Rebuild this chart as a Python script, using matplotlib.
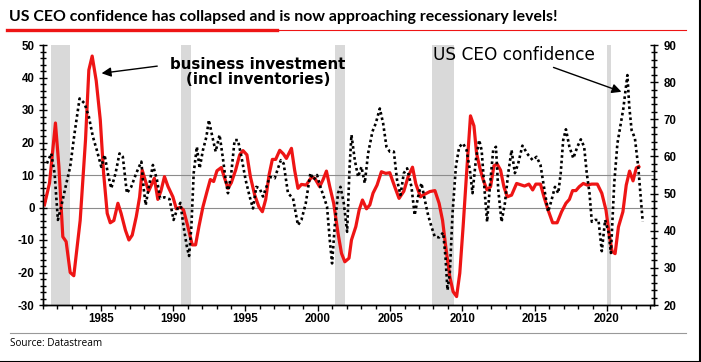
import matplotlib
matplotlib.use("Agg")
import matplotlib.pyplot as plt
from matplotlib.lines import Line2D
from matplotlib.ticker import MultipleLocator

plt.rcParams['axes.unicode_minus'] = False

# ---------------------------------------------------------------------------
# Data
# ---------------------------------------------------------------------------

# business investment incl. inventories, % y/y (left axis)
inv_years = [1981.10, 1981.45, 1981.86, 1982.10, 1982.37, 1982.60, 1982.88, 1983.13,
             1983.57, 1983.94, 1984.17, 1984.40, 1984.68, 1984.96, 1985.19, 1985.44,
             1985.65, 1985.90, 1986.18, 1986.40, 1986.70, 1986.94, 1987.17, 1987.45,
             1987.68, 1987.86, 1988.10, 1988.30, 1988.55, 1988.70, 1988.94, 1989.15,
             1989.40, 1989.64, 1989.98, 1990.22, 1990.50, 1990.72, 1991.02, 1991.32,
             1991.55, 1991.78, 1992.06, 1992.34, 1992.57, 1992.80, 1993.03, 1993.33,
             1993.56, 1993.79, 1994.02, 1994.32, 1994.60, 1994.83, 1995.10, 1995.34,
             1995.64, 1995.93, 1996.17, 1996.40, 1996.63, 1996.86, 1997.09, 1997.37,
             1997.62, 1997.83, 1998.18, 1998.40, 1998.63, 1998.87, 1999.20, 1999.56,
             1999.79, 2000.13, 2000.36, 2000.60, 2000.83, 2001.10, 2001.40, 2001.64,
             2001.87, 2002.16, 2002.33, 2002.63, 2002.86, 2003.09, 2003.37, 2003.60,
             2003.82, 2004.10, 2004.40, 2004.70, 2004.98, 2005.32, 2005.62, 2005.95,
             2006.25, 2006.55, 2006.78, 2007.10, 2007.40, 2007.75, 2008.10, 2008.39,
             2008.63, 2008.85, 2009.13, 2009.36, 2009.60, 2009.82, 2010.05, 2010.29,
             2010.56, 2010.80, 2010.98, 2011.20, 2011.44, 2011.70, 2011.95, 2012.18,
             2012.40, 2012.64, 2012.87, 2013.10, 2013.40, 2013.75, 2014.02, 2014.30,
             2014.60, 2014.86, 2015.08, 2015.40, 2015.64, 2015.93, 2016.24, 2016.55,
             2016.86, 2017.16, 2017.40, 2017.62, 2017.85, 2018.08, 2018.36, 2018.63,
             2018.94, 2019.33, 2019.64, 2019.93, 2020.16, 2020.35, 2020.56, 2020.79,
             2021.10, 2021.33, 2021.56, 2021.80, 2022.03, 2022.20]
inv_vals = [0.8, 7.5, 26.0, 12.6, -9.0, -10.5, -20.0, -21.0,
            -4.0, 20.8, 42.3, 46.6, 39.0, 27.0, 10.6, -1.8,
            -4.7, -4.0, 1.3, -1.8, -7.0, -10.0, -8.5, -2.8,
            3.2, 11.5, 8.0, 5.0, 7.5, 9.0, 2.5, 5.0,
            9.5, 6.5, 3.3, -0.4, 0.1, -0.8, -5.9, -11.5,
            -11.5, -5.9, 0.2, 4.9, 8.6, 8.0, 11.3, 12.3,
            9.0, 5.9, 7.6, 11.5, 16.2, 17.5, 16.2, 9.5,
            3.8, 0.2, -1.3, 2.5, 10.0, 14.8, 14.8, 17.6,
            16.5, 15.1, 18.2, 11.5, 5.9, 7.1, 6.9, 9.3,
            9.0, 6.4, 8.5, 11.2, 6.4, 1.3, -7.9, -14.1,
            -16.7, -15.6, -10.0, -5.9, -0.8, 2.3, -0.4, 0.8,
            4.4, 6.9, 11.0, 10.5, 10.7, 6.4, 2.8, 5.0,
            9.5, 12.4, 7.3, 3.3, 4.1, 4.9, 5.2, 1.3,
            -4.0, -12.1, -21.3, -25.9, -27.4, -20.2, -5.9, 10.5,
            28.2, 25.1, 16.7, 12.3, 8.5, 5.4, 6.4, 12.8,
            13.4, 11.5, 6.4, 3.3, 3.8, 7.4, 7.0, 6.6,
            7.2, 5.4, 7.2, 7.2, 3.3, -0.8, -4.7, -4.7,
            -1.3, 1.3, 2.5, 5.2, 5.2, 6.4, 7.4, 6.9,
            7.2, 7.2, 4.4, -0.8, -8.5, -13.5, -14.2, -6.0,
            -1.3, 6.9, 11.2, 8.2, 12.2, 12.6]

# US CEO confidence index (right axis)
ceo_years = [1981.27, 1981.57, 1981.80, 1982.03, 1982.26, 1982.56, 1982.88, 1983.18,
             1983.53, 1983.87, 1984.17, 1984.45, 1984.72, 1985.03, 1985.26, 1985.48,
             1985.72, 1986.02, 1986.29, 1986.52, 1986.80, 1987.10, 1987.45, 1987.80,
             1987.95, 1988.10, 1988.32, 1988.60, 1988.88, 1989.10, 1989.40, 1989.75,
             1990.03, 1990.26, 1990.50, 1990.72, 1990.95, 1991.10, 1991.26, 1991.42,
             1991.64, 1991.83, 1992.06, 1992.30, 1992.47, 1992.71, 1992.94, 1993.21,
             1993.44, 1993.63, 1993.79, 1994.02, 1994.25, 1994.48, 1994.72, 1995.01,
             1995.29, 1995.52, 1995.75, 1995.98, 1996.21, 1996.45, 1996.68, 1997.02,
             1997.25, 1997.45, 1997.64, 1997.94, 1998.29, 1998.63, 1998.87, 1999.17,
             1999.49, 1999.72, 1999.95, 2000.18, 2000.41, 2000.64, 2000.83, 2000.99,
             2001.17, 2001.40, 2001.57, 2001.80, 2002.03, 2002.20, 2002.33, 2002.56,
             2002.79, 2003.02, 2003.25, 2003.48, 2003.78, 2004.01, 2004.29, 2004.52,
             2004.75, 2004.98, 2005.26, 2005.48, 2005.72, 2005.95, 2006.18, 2006.48,
             2006.70, 2006.94, 2007.17, 2007.40, 2007.63, 2007.86, 2008.09, 2008.39,
             2008.67, 2008.83, 2008.97, 2009.13, 2009.32, 2009.55, 2009.78, 2010.05,
             2010.29, 2010.52, 2010.70, 2010.93, 2011.16, 2011.33, 2011.55, 2011.71,
             2011.90, 2012.13, 2012.32, 2012.48, 2012.71, 2012.94, 2013.17, 2013.40,
             2013.63, 2013.86, 2014.15, 2014.55, 2014.86, 2015.13, 2015.40, 2015.64,
             2015.93, 2016.17, 2016.40, 2016.63, 2016.80, 2016.97, 2017.16, 2017.40,
             2017.67, 2017.95, 2018.19, 2018.42, 2018.60, 2018.79, 2018.95, 2019.18,
             2019.41, 2019.64, 2019.87, 2020.10, 2020.27, 2020.50, 2020.72, 2021.13,
             2021.31, 2021.41, 2021.54, 2021.70, 2021.93, 2022.16, 2022.33, 2022.47]
ceo_vals = [58.1, 60.8, 55.5, 42.9, 46.5, 51.8, 57.2, 66.2,
            75.6, 74.3, 70.7, 65.3, 61.7, 57.2, 60.4, 55.5,
            51.4, 55.5, 60.8, 59.9, 50.1, 51.8, 55.5, 58.6,
            51.8, 46.9, 51.8, 57.7, 53.7, 48.7, 49.0, 48.5,
            42.9, 45.6, 47.5, 41.1, 35.7, 33.2, 41.1, 55.5,
            62.6, 56.8, 61.7, 65.3, 69.8, 65.3, 61.3, 65.8,
            59.5, 53.7, 50.1, 55.5, 64.4, 64.4, 59.9, 53.7,
            49.2, 46.0, 51.8, 51.4, 49.2, 51.8, 54.5, 54.1,
            56.8, 59.0, 58.1, 50.1, 48.7, 41.5, 42.9, 47.4,
            55.5, 53.7, 55.0, 51.8, 49.2, 46.5, 37.5, 31.2,
            41.1, 50.1, 51.8, 47.4, 39.7, 57.2, 65.8, 59.0,
            54.5, 57.2, 52.8, 60.8, 66.7, 68.9, 72.9, 68.9,
            62.6, 61.3, 61.3, 53.7, 49.6, 55.5, 56.8, 51.8,
            44.2, 49.2, 52.8, 48.3, 44.2, 41.1, 38.4, 38.2,
            39.5, 33.0, 24.0, 28.5, 44.7, 57.2, 62.6, 63.5,
            61.7, 56.3, 50.1, 59.0, 64.4, 61.7, 50.1, 42.4,
            51.8, 61.7, 62.6, 51.0, 42.4, 47.4, 55.5, 61.7,
            55.5, 58.1, 62.9, 60.4, 59.0, 59.9, 57.7, 51.8,
            45.1, 48.3, 51.8, 50.1, 55.5, 64.4, 67.3, 62.6,
            59.5, 62.6, 64.6, 62.6, 55.5, 50.1, 42.4, 42.9,
            42.9, 34.5, 42.9, 39.7, 34.0, 52.8, 63.5, 72.9,
            78.8, 81.9, 73.4, 67.1, 64.9, 57.2, 49.2, 42.4]

# NBER recessions (shaded)
rec_start = [1981.55, 1990.55, 2001.20, 2007.92, 2020.00]
rec_end = [1982.90, 1991.20, 2001.88, 2009.40, 2020.25]

RED = '#ee1515'

# ---------------------------------------------------------------------------
# Figure
# ---------------------------------------------------------------------------
W, H = 701, 362
fig = plt.figure(figsize=(W / 100, H / 100), dpi=100)
ax = fig.add_axes([43 / W, 1 - 305 / H, (654 - 43) / W, 260 / H])
ax2 = ax.twinx()

for s, e in zip(rec_start, rec_end):
    ax.axvspan(s, e, color='#d9d9d9', lw=0, zorder=0)
ax.axhline(0, color='#8c8c8c', lw=0.8, zorder=1)
ax.axhline(10, color='#8c8c8c', lw=0.8, zorder=1)

ax.plot(inv_years, inv_vals, color=RED, lw=2.3, zorder=3, solid_joinstyle='round')
ax2.plot(ceo_years, ceo_vals, color='black', lw=1.9, linestyle=(0, (1, 1.1)), zorder=4)

ax.set_xlim(1981.0, 2023.25)
ax.set_ylim(-30, 50)
ax2.set_ylim(20, 90)

ax.xaxis.set_major_locator(MultipleLocator(5))
ax.xaxis.set_minor_locator(MultipleLocator(1))
ax.yaxis.set_major_locator(MultipleLocator(10))
ax.yaxis.set_minor_locator(MultipleLocator(2))
ax2.yaxis.set_major_locator(MultipleLocator(10))
ax2.yaxis.set_minor_locator(MultipleLocator(2))

ax.tick_params(axis='x', which='major', direction='out', length=4, width=1, pad=2)
ax.tick_params(axis='x', which='minor', direction='out', length=3, width=1)
ax.tick_params(axis='y', which='major', direction='inout', length=6, width=1, pad=3)
ax.tick_params(axis='y', which='minor', direction='inout', length=4, width=1)
ax2.tick_params(axis='y', which='major', direction='inout', length=6, width=1, pad=4)
ax2.tick_params(axis='y', which='minor', direction='inout', length=4, width=1)

for a in (ax, ax2):
    a.spines['top'].set_visible(False)
    for sp in ('left', 'right', 'bottom'):
        a.spines[sp].set_linewidth(1)
    for lab in a.get_xticklabels() + a.get_yticklabels():
        lab.set_fontfamily('Liberation Sans')
        lab.set_fontweight('bold')
        lab.set_fontsize(8.3)

# annotations
ax.annotate('', xy=(1985.05, 41.3), xytext=(1988.9, 43.5),
            arrowprops=dict(arrowstyle='-|>', color='black', lw=1,
                            mutation_scale=14, shrinkA=0, shrinkB=0))
ax.text(1995.85, 41.6, 'business investment\n(incl inventories)', ha='center', va='center',
        fontfamily='DejaVu Sans', fontweight='bold', fontsize=10.8, linespacing=1.0)
ax.annotate('', xy=(2021.0, 35.6), xytext=(2016.3, 43.1),
            arrowprops=dict(arrowstyle='-|>', color='black', lw=1,
                            mutation_scale=14, shrinkA=0, shrinkB=0))
ax.text(2013.55, 46.9, 'US CEO confidence', ha='center', va='center',
        fontfamily='DejaVu Sans', fontsize=12.2)

# title, rules and source
fig.text(9 / W, 1 - 17 / H, 'US CEO confidence has collapsed and is now approaching recessionary levels!',
         fontfamily='Lato', fontweight='bold', fontsize=11.4, va='center', ha='left')
fig.add_artist(Line2D([7 / W, 686 / W], [1 - 29.5 / H] * 2, color=RED, lw=0.8))
fig.add_artist(Line2D([7 / W, 277 / W], [1 - 29.5 / H] * 2, color=RED, lw=2.4))
fig.add_artist(Line2D([10 / W, 686 / W], [1 - 333 / H] * 2, color='#999999', lw=0.8))
fig.text(10 / W, 1 - 343 / H, 'Source: Datastream', fontfamily='Open Sans',
         fontsize=7.2, va='center', ha='left')

# frame on right and bottom edge
fig.add_artist(Line2D([0, 1], [0.5 / H, 0.5 / H], color='black', lw=1.5))
fig.add_artist(Line2D([1 - 1 / W, 1 - 1 / W], [0, 1], color='black', lw=1.5))

fig.savefig('out.png', dpi=100)
